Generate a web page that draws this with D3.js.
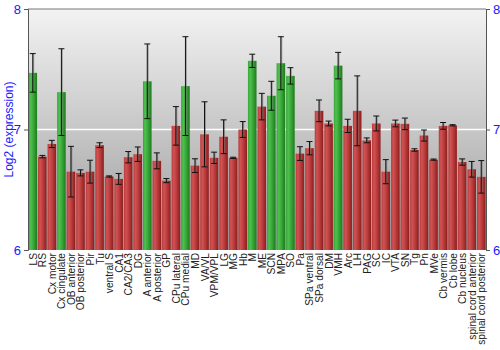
<!DOCTYPE html>
<html>
<head>
<meta charset="utf-8">
<script src="https://cdn.jsdelivr.net/npm/d3@7"></script>
<style>
  html, body { margin: 0; padding: 0; background: #fff; }
  svg { display: block; font-family: "Liberation Sans", Arial, sans-serif; }
</style>
</head>
<body>
<svg id="chart" width="500" height="350"></svg>
<script>
// Brain regions along the x axis
const regions = ["LS","RS","Cx motor","Cx cingulate","OB anterior","OB posterior","Pir","Tu",
  "ventral S","CA1","CA2/CA3","DG","A anterior","A posterior","GP","CPu lateral","CPu medial",
  "MD","VA/VL","VPM/VPL","LG","MG","Hb","M","ME","SCN","MPA","SO","Pa","SPa ventral",
  "SPa dorsal","DM","VMH","Arc","LH","PAG","SC","IC","VTA","SN","Tg","Pn","MVe",
  "Cb vermis","Cb lobe","Cb nucleus","spinal cord anterior","spinal cord posterior"];

// Mean log2 expression per region
const expression = [7.47,6.775,6.88,7.31,6.65,6.64,6.65,6.87,
  6.61,6.59,6.77,6.795,7.40,6.74,6.576,7.03,7.36,
  6.70,6.96,6.765,6.94,6.765,7.00,7.57,7.19,7.28,7.55,7.445,6.80,6.845,
  7.155,7.05,7.53,7.03,7.155,6.91,7.05,6.65,7.05,7.047,6.83,6.95,6.75,
  7.03,7.035,6.73,6.67,6.607];

// Half-width of each error bar
const errors = [0.16,0.01,0.03,0.36,0.21,0.025,0.095,0.02,
  0.005,0.045,0.047,0.06,0.31,0.066,0.017,0.16,0.41,
  0.057,0.27,0.047,0.14,0.005,0.066,0.055,0.11,0.12,0.22,0.068,0.057,0.055,
  0.09,0.02,0.11,0.055,0.29,0.02,0.062,0.10,0.028,0.048,0.01,0.046,0.005,
  0.028,0.005,0.026,0.065,0.135];

// Highlighted (enriched) regions
const highlighted = ["LS","Cx cingulate","A anterior","CPu medial","M","SCN","MPA","SO","VMH"];

const yTicks = [6, 7, 8];

const svg = d3.select("#chart");
const margin = {top: 9, right: 14, bottom: 100, left: 28};
const W = 500, H = 350;
const innerW = W - margin.left - margin.right;
const innerH = H - margin.top - margin.bottom;

const defs = svg.append("defs");
const bg = defs.append("linearGradient").attr("id", "bgGrad")
  .attr("x1", 0).attr("y1", 0).attr("x2", 0).attr("y2", 1);
bg.append("stop").attr("offset", "0%").attr("stop-color", "#f3f3f3");
bg.append("stop").attr("offset", "100%").attr("stop-color", "#9a9a9a");

function barGradient(id, light, mid, dark) {
  const g = defs.append("linearGradient").attr("id", id)
    .attr("x1", 0).attr("y1", 0).attr("x2", 1).attr("y2", 0);
  g.append("stop").attr("offset", "0%").attr("stop-color", mid);
  g.append("stop").attr("offset", "25%").attr("stop-color", light);
  g.append("stop").attr("offset", "60%").attr("stop-color", mid);
  g.append("stop").attr("offset", "100%").attr("stop-color", dark);
}
barGradient("redGrad", "#d05252", "#b83a3a", "#8a1e1e");
barGradient("greenGrad", "#50c050", "#36a536", "#1e7a1e");

const x = d3.scaleBand().domain(regions).range([0, innerW]).paddingInner(0.1).paddingOuter(0.05);
const y = d3.scaleLinear().domain([6, 8]).range([innerH, 0]);

const g = svg.append("g").attr("transform", `translate(${margin.left},${margin.top})`);

g.append("rect").attr("width", innerW).attr("height", innerH).attr("fill", "url(#bgGrad)");

g.selectAll(".grid").data([7]).join("line")
  .attr("x1", 0).attr("x2", innerW)
  .attr("y1", d => y(d)).attr("y2", d => y(d))
  .attr("stroke", "#ffffff").attr("stroke-width", 1.5);

const data = regions.map((r, i) => ({region: r, value: expression[i], err: errors[i]}));

g.selectAll(".bar").data(data).join("rect")
  .attr("x", d => x(d.region))
  .attr("width", x.bandwidth())
  .attr("y", d => y(d.value))
  .attr("height", d => y(6) - y(d.value))
  .attr("fill", d => highlighted.includes(d.region) ? "url(#greenGrad)" : "url(#redGrad)");

// Error bars: grey shadow then black line with caps
const eb = g.selectAll(".err").data(data).join("g")
  .attr("transform", d => `translate(${x(d.region) + x.bandwidth() / 2},0)`);
eb.append("line")
  .attr("x1", 0.7).attr("x2", 0.7)
  .attr("y1", d => y(d.value + d.err)).attr("y2", d => y(d.value - d.err))
  .attr("stroke", "#777").attr("stroke-width", 1.5).attr("opacity", 0.6);
eb.append("line")
  .attr("x1", 0).attr("x2", 0)
  .attr("y1", d => y(d.value + d.err)).attr("y2", d => y(d.value - d.err))
  .attr("stroke", "#111").attr("stroke-width", 1);
[1, -1].forEach(s => {
  eb.append("line")
    .attr("x1", -3).attr("x2", 3)
    .attr("y1", d => y(d.value + s * d.err)).attr("y2", d => y(d.value + s * d.err))
    .attr("stroke", "#111").attr("stroke-width", 1);
});

// Frame
g.append("line").attr("x1", 0).attr("x2", innerW).attr("y1", 0).attr("y2", 0)
  .attr("stroke", "#777");

const leftAxis = d3.axisLeft(y).tickValues(yTicks).tickFormat(d3.format("d")).tickSize(4).tickPadding(3);
const rightAxis = d3.axisRight(y).tickValues(yTicks).tickFormat(d3.format("d")).tickSize(4).tickPadding(3);

function styleAxis(sel) {
  sel.select(".domain").attr("stroke", "#555");
  sel.selectAll(".tick line").attr("stroke", "#555");
  sel.selectAll(".tick text").attr("fill", "#1a1aff").style("font-size", "13px")
    .style("font-family", "'Liberation Sans', Arial, sans-serif");
}
g.append("g").call(leftAxis).call(styleAxis);
g.append("g").attr("transform", `translate(${innerW},0)`).call(rightAxis).call(styleAxis);

// Region labels, rotated
g.append("g").selectAll("text").data(regions).join("text")
  .attr("transform", d => `translate(${x(d) + x.bandwidth() / 2 + 4},${innerH + 3}) rotate(-90)`)
  .attr("text-anchor", "end")
  .attr("fill", "#222")
  .style("font-size", "10.2px")
  .text(d => d);

// Y axis title
svg.append("text")
  .attr("transform", `translate(13,${margin.top + innerH / 2}) rotate(-90)`)
  .attr("text-anchor", "middle")
  .attr("fill", "#1a1aff")
  .style("font-size", "12px")
  .text("Log2 (expression)");
</script>
</body>
</html>
